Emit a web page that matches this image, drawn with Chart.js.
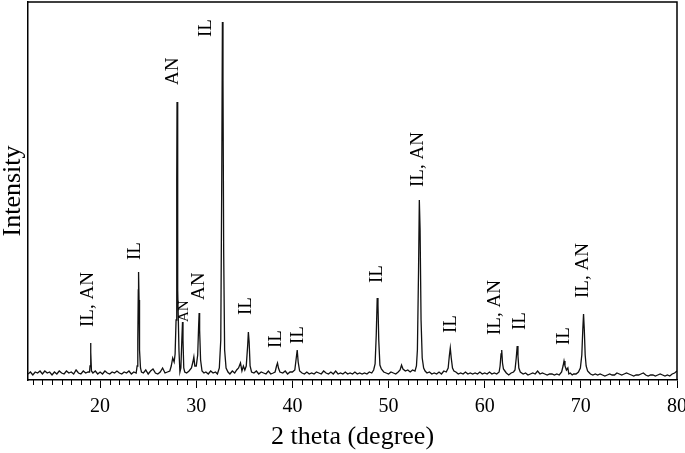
<!DOCTYPE html>
<html><head><meta charset="utf-8">
<script src="https://cdn.jsdelivr.net/npm/chart.js@4/dist/chart.umd.min.js"></script>
<style>html,body{margin:0;padding:0;background:#fff}#wrap{width:685px;height:453px;position:relative}</style>
</head><body><div id="wrap"><canvas id="c" width="685" height="453"></canvas></div>
<script>
// 2 theta (degree) positions of the recorded pattern
const twoTheta = [
  12.5,12.75,13,13.25,13.5,13.75,14,14.25,14.5,14.75,15,15.25,15.5,15.75,16,16.25,16.5,16.75,17,17.25,17.5,17.75,18,18.25,18.5,18.75,
  18.9,18.95,19,19.05,19.1,19.25,19.5,19.75,20,20.25,20.5,20.75,21,21.25,21.5,21.75,22,22.25,22.5,22.75,23,23.25,23.5,23.75,
  23.85,23.92,23.97,24,24.05,24.1,24.2,24.3,24.5,24.75,25,25.25,25.5,25.75,26,26.25,26.5,26.75,27,27.25,27.4,27.55,27.7,27.8,
  27.9,27.97,28,28.04,28.1,28.2,28.3,28.4,28.5,28.57,28.62,28.7,28.8,29,29.25,29.5,29.65,29.75,29.85,30,30.15,30.25,30.3,30.35,30.45,30.6,30.8,
  31,31.25,31.5,31.75,32,32.2,32.4,32.55,32.65,32.72,32.78,32.85,32.95,33.1,33.3,33.5,33.75,34,34.2,34.4,34.6,34.75,34.9,35.05,35.2,35.35,35.42,35.5,35.6,35.75,
  36,36.25,36.5,36.75,37,37.25,37.5,37.75,38,38.2,38.35,38.45,38.55,38.7,39,39.25,39.5,39.75,40,40.25,40.4,40.5,40.6,40.75,
  41,41.25,41.5,41.75,42,42.25,42.5,42.75,43,43.25,43.5,43.75,44,44.25,44.5,44.75,45,45.25,45.5,45.75,46,46.25,46.5,46.75,47,47.25,47.5,47.75,
  48,48.25,48.45,48.6,48.72,48.82,48.9,48.98,49.1,49.25,49.5,49.75,50,50.25,50.5,50.75,51,51.2,51.35,51.5,51.75,52,52.25,52.5,52.75,52.9,53,53.12,53.2,53.28,53.38,53.5,53.65,53.8,
  54,54.25,54.5,54.75,55,55.25,55.5,55.75,56,56.2,56.32,56.42,56.52,56.65,56.8,57,57.25,57.5,57.75,58,58.25,58.5,58.75,59,59.25,59.5,59.75,60,60.25,60.5,60.75,
  61,61.25,61.5,61.6,61.7,61.77,61.85,61.95,62.1,62.25,62.5,62.75,63,63.15,63.28,63.38,63.46,63.55,63.7,64,64.25,64.5,64.75,65,65.25,65.5,65.75,
  66,66.25,66.5,66.75,67,67.25,67.5,67.75,68,68.15,68.25,68.35,68.5,68.65,68.75,68.9,69.1,69.25,69.5,69.75,69.95,70.1,70.2,70.28,70.36,70.45,70.55,70.7,70.9,
  71,71.25,71.5,71.75,72,72.25,72.5,72.75,73,73.25,73.5,73.75,74,74.25,74.5,74.75,75,75.25,75.5,75.75,76,76.25,76.5,76.75,77,77.25,77.5,77.75,78,78.25,78.5,78.75,79,79.25,79.5,79.75,80
];
// intensity (arbitrary units)
const intensity = [
  6,8,5,8,7,9,6,9,7,8,5,8,6,9,7,6,9,7,8,6,10,7,6,9,7,8,
  8,14,37,28,9,7,9,6,8,6,9,7,6,8,7,9,7,6,8,7,9,6,8,7,
  14,40,90,108,80,30,12,8,7,10,6,9,11,7,6,8,12,7,8,9,14,22,18,26,
  60,200,278,200,90,30,8,12,40,58,40,12,8,7,9,12,18,23,14,14,25,55,67,50,20,9,7,
  8,6,9,7,8,6,12,40,200,358,300,130,30,12,8,6,9,7,10,12,17,9,14,10,14,35,48,38,14,8,
  7,9,6,8,7,6,9,6,7,8,14,17,12,8,7,9,6,8,8,10,22,30,18,9,
  7,6,8,6,7,6,8,7,6,9,7,6,8,6,9,6,7,6,8,6,7,6,8,6,7,6,7,6,
  8,7,10,16,45,82,75,40,15,11,8,7,6,8,7,6,8,10,15,11,9,10,8,10,9,14,30,110,180,150,60,22,12,9,
  7,8,6,7,6,8,6,9,8,12,24,32,22,12,9,8,6,7,6,8,6,7,6,7,6,8,6,7,6,8,6,
  7,6,8,14,26,30,17,11,9,7,5,7,8,10,22,34,24,12,8,6,7,5,6,7,6,9,6,
  7,6,5,6,6,5,6,5,8,14,19,14,10,12,6,7,5,6,6,8,12,25,50,66,50,25,14,9,7,
  6,5,6,5,6,5,4,5,6,5,5,7,6,5,6,7,6,5,4,5,5,6,7,5,4,5,5,4,5,6,5,4,5,4,6,7,9
];
const xTickLabels = [20,30,40,50,60,70,80];
// phase labels: text, 2theta of label, intensity at label foot, font size
const labelText  = ['IL, AN','IL','AN','AN','AN','IL','IL','IL','IL','IL','IL, AN','IL','IL, AN','IL','IL','IL, AN'];
const labelTheta = [18.75,23.65,27.6,28.75,30.3,31.05,35.2,38.3,40.6,48.85,53.1,56.45,61.05,63.65,68.2,70.2];
const labelBase  = [53,120,295,58,80,343,65,32,36,97,193,47,45,50,35,82];
const labelSize  = [19,19,19,15,19,19,19,19,19,19,19,19,19,19,19,19];

const SERIF = '"Liberation Serif", "Times New Roman", serif';

const decor = {
  id: 'decor',
  afterDraw(chart) {
    const ctx = chart.ctx, a = chart.chartArea;
    const xs = chart.scales.x, ys = chart.scales.y;
    ctx.save();
    // minor ticks
    ctx.strokeStyle = '#000'; ctx.lineWidth = 1;
    ctx.beginPath();
    for (let v = Math.ceil(xs.min); v <= xs.max; v++) {
      if (v % 10 === 0) continue;
      const px = Math.round(xs.getPixelForValue(v)) + 0.5;
      ctx.moveTo(px, a.bottom); ctx.lineTo(px, a.bottom + 5);
    }
    ctx.stroke();
    // frame top & right
    ctx.lineWidth = 1.5;
    ctx.beginPath();
    ctx.moveTo(a.left, a.top); ctx.lineTo(a.right, a.top); ctx.lineTo(a.right, a.bottom);
    ctx.stroke();
    // peak labels
    ctx.fillStyle = '#000';
    ctx.textAlign = 'left'; ctx.textBaseline = 'middle';
    for (let i = 0; i < labelText.length; i++) {
      const px = xs.getPixelForValue(labelTheta[i]);
      const py = ys.getPixelForValue(labelBase[i]);
      ctx.save();
      ctx.translate(px, py);
      ctx.rotate(-Math.PI / 2);
      ctx.font = labelSize[i] + 'px ' + SERIF;
      ctx.fillText(labelText[i], 0, 0);
      ctx.restore();
    }
    ctx.restore();
  }
};

new Chart(document.getElementById('c'), {
  type: 'line',
  data: {
    datasets: [{
      data: twoTheta.map((t, i) => ({x: t, y: intensity[i]})),
      borderColor: '#111',
      borderWidth: 1.3,
      pointRadius: 0,
      tension: 0,
      fill: false
    }]
  },
  options: {
    responsive: false,
    animation: false,
    devicePixelRatio: 1,
    layout: {padding: {top: 2, right: 8, left: 0, bottom: 0}},
    plugins: {legend: {display: false}, tooltip: {enabled: false}},
    scales: {
      x: {
        type: 'linear', min: 12.5, max: 80,
        afterBuildTicks: s => { s.ticks = xTickLabels.map(v => ({value: v})); },
        afterFit: s => { s.height = 73; s.paddingLeft = 0; s.paddingRight = 0; },
        ticks: {font: {family: SERIF, size: 20}, color: '#000', padding: 7, maxRotation: 0, autoSkip: false},
        grid: {display: true, drawOnChartArea: false, drawTicks: true, tickLength: 8, tickColor: '#000', tickWidth: 1},
        border: {color: '#000', width: 1.5},
        title: {display: true, text: '2 theta (degree)', color: '#000', font: {family: SERIF, size: 26, lineHeight: 1}, padding: {top: 0, bottom: 3}}
      },
      y: {
        type: 'linear', min: 0, max: 378,
        afterFit: s => { s.width = 28; },
        ticks: {display: false},
        grid: {display: false},
        border: {color: '#000', width: 1.5},
        title: {display: true, text: 'Intensity', color: '#000', font: {family: SERIF, size: 26, lineHeight: 1}, padding: {top: 0, bottom: 0}}
      }
    }
  },
  plugins: [decor]
});
</script>
</body></html>
